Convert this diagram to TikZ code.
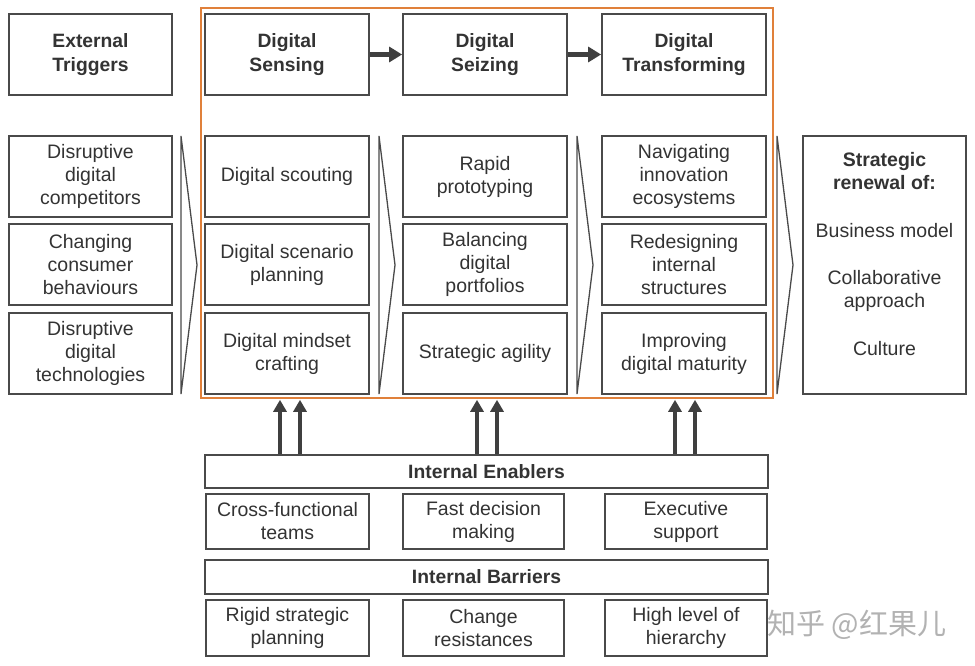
\documentclass[tikz,border=0pt]{standalone}
\usepackage{fontspec}
\setmainfont{Liberation Sans}
\newfontfamily\cjkfont{Noto Sans CJK SC}
\usetikzlibrary{arrows.meta}
\definecolor{boxline}{HTML}{4A4A4A}
\definecolor{txt}{HTML}{333333}
\definecolor{frameorange}{HTML}{E0803A}
\tikzset{
  box/.style={draw=boxline, line width=1.8pt, fill=white, align=center, text=txt,
    font=\fontsize{19.5}{23}\selectfont, inner sep=0pt},
  headbox/.style={box, minimum width=163pt, minimum height=81pt, font=\bfseries\fontsize{19.3}{24}\selectfont},
  cellbox/.style={box, minimum width=163pt, minimum height=81pt},
  barbox/.style={box, minimum width=563pt, font=\bfseries\fontsize{19.3}{22}\selectfont},
  smallbox/.style={box, minimum height=55pt},
  chev/.style={draw=boxline, line width=1.3pt, line join=miter},
  uparrow/.style={draw=boxline!85!black, line width=4pt, -{Triangle[width=13pt,length=12pt]}},
  headarrow/.style={draw=boxline!85!black, line width=5pt, -{Triangle[width=15pt,length=13pt]}},
}
\begin{document}
\begin{tikzpicture}[x=1pt,y=-1pt]
\useasboundingbox (0,0) rectangle (975,666);
\fill[white] (0,0) rectangle (975,666);

% orange frame
\node[draw=frameorange, line width=1.6pt, minimum width=572pt, minimum height=390pt, inner sep=0pt] (frame) at (487,203) {};

% headers
\node[headbox] (et) at (90.5,54.5) {External\\Triggers};
\node[headbox, minimum width=164pt] (ds) at (287,54.5) {Digital\\Sensing};
\node[headbox, minimum width=164pt] (dz) at (485,54.5) {Digital\\Seizing};
\node[headbox, minimum width=164pt] (dt) at (684,54.5) {Digital\\Transforming};
\draw[headarrow] (ds.east) -- (dz.west);
\draw[headarrow] (dz.east) -- (dt.west);

% column 1
\node[cellbox] (e1) at (90.5,176.5) {Disruptive\\digital\\competitors};
\node[cellbox] (e2) at (90.5,264.5) {Changing\\consumer\\behaviours};
\node[cellbox] (e3) at (90.5,353.5) {Disruptive\\digital\\technologies};
% column 2
\node[cellbox, minimum width=164pt] (s1) at (287,176.5) {Digital scouting};
\node[cellbox, minimum width=164pt] (s2) at (287,264.5) {Digital scenario\\planning};
\node[cellbox, minimum width=164pt] (s3) at (287,353.5) {Digital mindset\\crafting};
% column 3
\node[cellbox, minimum width=164pt] (z1) at (485,176.5) {Rapid\\prototyping};
\node[cellbox, minimum width=164pt] (z2) at (485,264.5) {Balancing\\digital\\portfolios};
\node[cellbox, minimum width=164pt] (z3) at (485,353.5) {Strategic agility};
% column 4
\node[cellbox, minimum width=164pt] (t1) at (684,176.5) {Navigating\\innovation\\ecosystems};
\node[cellbox, minimum width=164pt] (t2) at (684,264.5) {Redesigning\\internal\\structures};
\node[cellbox, minimum width=164pt] (t3) at (684,353.5) {Improving\\digital maturity};
% strategic renewal
\node[box, minimum width=163pt, minimum height=258pt] (sr) at (884.5,265) {};
\node[align=center, text=txt, font=\fontsize{19.5}{23}\selectfont, inner sep=0pt] (srtext) at (884.5,254)
  {\textbf{Strategic}\\\textbf{renewal of:}\\[25pt]Business model\\[24pt]Collaborative\\approach\\[25pt]Culture};

% chevrons
\draw[chev] (181,136) -- (197,265) -- (181,394) -- cycle;
\draw[chev] (379,136) -- (395,265) -- (379,394) -- cycle;
\draw[chev] (577,136) -- (593,265) -- (577,394) -- cycle;
\draw[chev] (777,136) -- (793,265) -- (777,394) -- cycle;

% enablers
\node[barbox, minimum height=33pt] (ie) at (486.5,471.5) {Internal Enablers};
\node[smallbox, minimum width=163pt] (en1) at (287.5,521.5) {Cross-functional\\teams};
\node[smallbox, minimum width=161pt] (en2) at (483.5,521.5) {Fast decision\\making};
\node[smallbox, minimum width=162pt] (en3) at (686,521.5) {Executive\\support};

% barriers
\node[barbox, minimum height=34pt] (ib) at (486.5,577) {Internal Barriers};
\node[smallbox, minimum width=163pt, minimum height=56pt] (b1) at (287.5,628) {Rigid strategic\\planning};
\node[smallbox, minimum width=161pt, minimum height=56pt] (b2) at (483.5,628) {Change\\resistances};
\node[smallbox, minimum width=162pt, minimum height=56pt] (b3) at (686,628) {High level of\\hierarchy};

% up arrows
\foreach \xx in {280,300,477,497,675,695}{
  \coordinate (a\xx) at (\xx,0);
  \draw[uparrow] (ie.north -| a\xx) -- ([yshift=-1pt]frame.south -| a\xx);
}

% watermark
\node[text=gray!60, font=\cjkfont\fontsize{29}{32}\selectfont, anchor=west, inner sep=0pt] (wm) at (767,625) {知乎 @红果儿};
\end{tikzpicture}
\end{document}
